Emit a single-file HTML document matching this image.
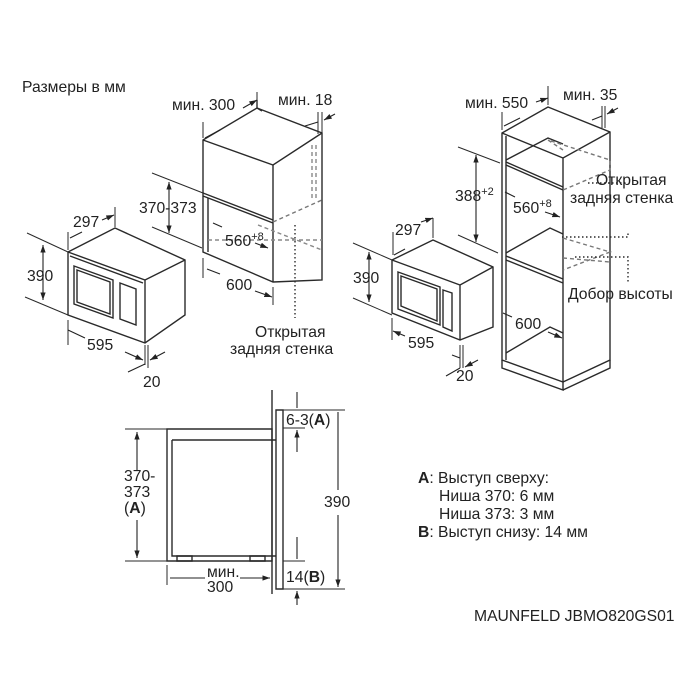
<!DOCTYPE html>
<html><head><meta charset="utf-8"><style>
body{margin:0;background:#fff}
svg{display:block}
text{font-family:"Liberation Sans","DejaVu Sans",sans-serif;fill:#222;font-size:15.7px}
</style></head><body>
<svg width="700" height="700" viewBox="0 0 700 700" xmlns="http://www.w3.org/2000/svg">
<defs>
<marker id="a" viewBox="0 0 10 10" refX="10" refY="5" markerWidth="7" markerHeight="7" orient="auto-start-reverse"><path d="M0,1.5L10,5L0,8.5z" fill="#222"/></marker>
</defs>
<g stroke="#2a2a2a" stroke-width="1.4" fill="none">
<!-- left cabinet -->
<path d="M203,140 L257,108 L322,133 L322,280 L273,282 L203,252 Z"/>
<path d="M203,140 L273,165 L322,133"/>
<path d="M273,165 L273,282"/>
<path d="M203,193 L273,220 M203,196 L273,223"/>
<path d="M208,198 L208,252"/>
<path d="M257,108 L257,100 M257,108 L262,111"/>
<path d="M273,222 L322,200" stroke-dasharray="4,3" stroke="#777"/>
<path d="M208,240 L322,240 M258,225 L322,250" stroke-dasharray="4,3" stroke="#888"/>
<path d="M312,145 L312,200 M316,145 L316,200" stroke-dasharray="4,3" stroke="#888"/>
<path d="M295,225 L295,318" stroke-dasharray="1.5,2.5"/>
<!-- left microwave -->
<path d="M68,252 L115,228 L185,260 L185,315 L145,343 L68,315 Z"/>
<path d="M68,252 L145,280 L185,260 M145,280 L145,343"/>
<path d="M70,256 L143,283"/>
<path d="M74,266 L113,280 L113,318 L74,304 Z M77,270 L110,282 L110,314 L77,302 Z"/>
<path d="M120,283 L136,289 L136,325 L120,319 Z"/>
<!-- right microwave -->
<path d="M392,260 L433,240 L493,267 L493,327 L460,340 L392,313 Z"/>
<path d="M392,260 L460,285 L493,267 M460,285 L460,340"/>
<path d="M398,272 L440,287 L440,325 L398,309 Z M401,276 L437,289 L437,321 L401,306 Z"/>
<path d="M443,290 L452,293 L452,331 L443,327 Z"/>
<!-- tall cabinet -->
<path d="M502,133 L548,107 L610,132 L610,360 L563,382 L502,360 Z"/>
<path d="M502,133 L563,158 L610,132 M563,158 L563,382"/>
<path d="M506,136 L506,360"/>
<path d="M506,162 L563,187 M506,165 L563,190"/>
<path d="M506,160 L548,138 L563,144"/>
<path d="M506,253 L550,228 L563,234 M506,256 L563,279 M506,260 L563,283"/>
<path d="M506,353 L550,327 L563,333"/>
<path d="M502,360 L502,368 L563,390 L563,382 M563,390 L610,368 L610,360"/>
<path d="M563,150 L548,140 L610,160 L610,170 L563,190" stroke-dasharray="4,3" stroke="#777"/>
<path d="M563,238 L610,252 L563,270 M563,258 L610,262" stroke-dasharray="4,3" stroke="#777"/>
<path d="M562,237 L628,237 L628,232" stroke-dasharray="1.5,2.5"/>
<path d="M575,257 L628,257 L628,283" stroke-dasharray="1.5,2.5"/>
<path d="M588,183 L628,183" stroke-dasharray="1.5,2.5"/>
<!-- bottom section -->
<path d="M167,429 L272,429 L272,561 L167,561 Z"/>
<path d="M172,440 L276,440 M172,440 L172,556 L276,556"/>
<path d="M276,410 L283,410 L283,589 L276,589 Z"/>
<path d="M272,390 L272,594"/>
<path d="M177,556 L177,561 L192,561 L192,556 Z M250,556 L250,561 L265,561 L265,556 Z"/>
<!-- extension lines -->
<g stroke-width="1">
<path d="M27,233 L68,252 M25,297 L68,315"/>
<path d="M68,320 L68,345 M145,345 L145,365 M148,345 L148,368"/>
<path d="M152,173 L203,193 M152,227 L202,248"/>
<path d="M203,258 L203,278 M273,287 L273,305"/>
<path d="M203,122 L203,138 M257,92 L257,106 M318,112 L318,134 M322,112 L322,134"/>
<path d="M68,232 L68,250 M115,207 L115,227"/>
<path d="M353,243 L392,260 M353,298 L392,315"/>
<path d="M392,318 L392,340 M460,345 L460,368 M463,345 L463,368"/>
<path d="M458,147 L500,163 M458,235 L498,253"/>
<path d="M502,112 L502,130 M548,86 L548,105 M602,106 L602,128 M605,106 L605,128"/>
<path d="M393,232 L393,255 M433,218 L433,238"/>
<path d="M125,429 L167,429 M125,561 L167,561"/>
<path d="M283,410 L345,410 M283,589 L345,589 M283,561 L305,561 M283,428 L305,428"/>
<path d="M167,565 L167,585"/>
</g>
</g>
<g stroke="#222" stroke-width="1.1" fill="none" marker-end="url(#a)">
<path d="M43,245 L43,300" marker-start="url(#a)"/>
<path d="M169,182 L169,233" marker-start="url(#a)"/>
<path d="M369,252 L369,302" marker-start="url(#a)"/>
<path d="M476,155 L476,242" marker-start="url(#a)"/>
<path d="M85,338 L68,330 M125,352 L143,360"/>
<path d="M128,372 L145,364 M165,352 L150,360"/>
<path d="M220,274 L207,269 M255,291 L272,297"/>
<path d="M222,227 L213,223 M255,243 L268,248"/>
<path d="M220,130 L205,138 M243,108 L257,100"/>
<path d="M305,126 L318,122 M335,114 L324,120"/>
<path d="M82,232 L70,238 M102,220 L114,215"/>
<path d="M405,249 L394,255 M421,222 L433,218"/>
<path d="M520,118 L504,126 M536,102 L548,98"/>
<path d="M592,120 L602,116 M618,108 L607,114"/>
<path d="M452,355 L460,358 M405,336 L393,331"/>
<path d="M446,376 L460,368 M478,360 L465,367"/>
<path d="M515,197 L505,192 M545,212 L560,217"/>
<path d="M512,317 L503,313 M548,332 L562,338"/>
<path d="M137,470 L137,432"/>
<path d="M137,520 L137,558"/>
<path d="M205,578 L170,578 M240,578 L270,578"/>
<path d="M297,392 L297,408 M297,452 L297,430"/>
<path d="M297,537 L297,559 M297,605 L297,591"/>
<path d="M338,490 L338,412 M338,515 L338,587"/>
</g>
<text x="22" y="92">Размеры в мм</text>
<text x="172" y="110">мин. 300</text>
<text x="278" y="105">мин. 18</text>
<text x="73" y="227">297</text>
<text x="139" y="213">370-373</text>
<text x="27" y="281">390</text>
<text x="225" y="246">560<tspan dy="-6" font-size="11">+8</tspan></text>
<text x="226" y="290">600</text>
<text x="87" y="350">595</text>
<text x="143" y="387">20</text>
<text x="255" y="337">Открытая</text>
<text x="230" y="354">задняя стенка</text>
<text x="465" y="108">мин. 550</text>
<text x="563" y="100">мин. 35</text>
<text x="395" y="235">297</text>
<text x="455" y="201">388<tspan dy="-6" font-size="11">+2</tspan></text>
<text x="353" y="283">390</text>
<text x="513" y="213">560<tspan dy="-6" font-size="11">+8</tspan></text>
<text x="515" y="329">600</text>
<text x="408" y="348">595</text>
<text x="456" y="381">20</text>
<text x="596" y="185">Открытая</text>
<text x="570" y="203">задняя стенка</text>
<text x="568" y="299">Добор высоты</text>
<text x="286" y="425">6-3(<tspan font-weight="bold">A</tspan>)</text>
<text x="124" y="481">370-</text>
<text x="124" y="497">373</text>
<text x="124" y="513">(<tspan font-weight="bold">A</tspan>)</text>
<text x="324" y="507">390</text>
<text x="207" y="577">мин.</text>
<text x="207" y="592">300</text>
<text x="286" y="582">14(<tspan font-weight="bold">B</tspan>)</text>
<text x="418" y="483"><tspan font-weight="bold">A</tspan>: Выступ сверху:</text>
<text x="439" y="501">Ниша 370: 6 мм</text>
<text x="439" y="519">Ниша 373: 3 мм</text>
<text x="418" y="537"><tspan font-weight="bold">B</tspan>: Выступ снизу: 14 мм</text>
<text x="474" y="621">MAUNFELD JBMO820GS01</text>
</svg>
</body></html>
